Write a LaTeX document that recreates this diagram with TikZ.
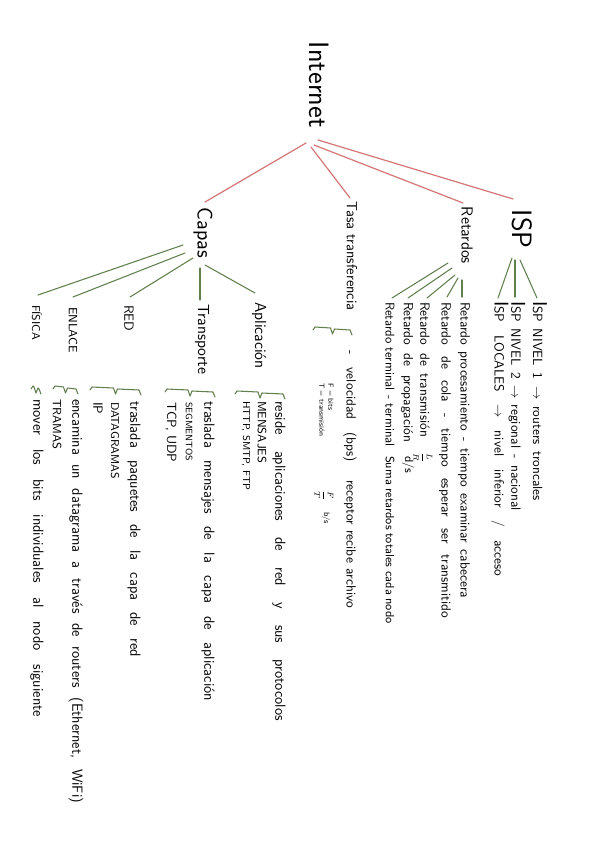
\documentclass[tikz,border=0pt]{standalone}
\usepackage{fontspec}
\usetikzlibrary{calc}
\newlength{\pxu}\setlength{\pxu}{0.75pt}
\newcommand{\fitw}[2]{\makebox[#1\pxu][s]{#2}}
\definecolor{redl}{RGB}{212,118,118}
\definecolor{greenl}{RGB}{98,128,78}
\newcommand{\hwmark}[3]{%
  \pgfmathsetmacro{\hwm}{(#1+#2)/2}%
  \draw[gl] ({#1},{#3+3}) -- ({#1+2},{#3}) -- ({\hwm-2},{#3+1}) -- ({\hwm},{#3+7}) -- ({\hwm+2},{#3+2}) -- ({#2-2},{#3+3}) -- ({#2},{#3+8});}
\begin{document}
\begin{tikzpicture}[x=0.75pt,y=-0.75pt,
  hw/.style={rotate=-90,anchor=west,inner sep=0pt,outer sep=0pt},
  fsz/.style={font=\sffamily\fontsize{#1}{#1}\selectfont},
  rl/.style={draw=redl,line width=0.9pt,line cap=round},
  gl/.style={draw=greenl,line width=0.8pt,line cap=round,line join=round}]
\fill[white] (0,0) rectangle (600,848);
\useasboundingbox (0,0) rectangle (600,848);

% top level
\node[hw,fsz=21] (internet) at (319,42) {Internet};
\node[hw,fsz=16] (capas) at (203,208) {Capas};
\node[hw,fsz=11] (tasa) at (352,202) {Tasa transferencia};
\node[hw,fsz=12] (retardos) at (467,207) {Retardos};
\node[hw,fsz=21] (isp) at (522,210) {ISP};

% ISP rows
\node[hw,fsz=10] (isp1) at (540,301) {\fitw{200}{{\fontsize{15}{15}\selectfont I}SP NIVEL 1 $\rightarrow$ routers troncales}};
\node[hw,fsz=10] (isp2) at (517,301) {\fitw{210}{{\fontsize{15}{15}\selectfont I}SP NIVEL 2 $\rightarrow$ regional - nacional}};
\node[hw,fsz=10] (isp3) at (500,301) {\fitw{275}{{\fontsize{15}{15}\selectfont I}SP LOCALES $\rightarrow$ nivel inferior / acceso}};

% Retardo rows
\node[hw,fsz=10] (rproc) at (464,302) {\fitw{296}{Retardo procesamiento - tiempo examinar cabecera}};
\node[hw,fsz=10] (rcola) at (445,302) {\fitw{316}{Retardo de cola - tiempo esperar ser transmitido}};
\node[hw,fsz=10] (rtrans) at (425,302) {\fitw{135}{Retardo de transmisión}};
\node[hw,fsz=6] (rlr) at (423,452) {$\displaystyle\frac{L}{R}$};
\node[hw,fsz=10] (rprop) at (407,302) {\fitw{140}{Retardo de propagación}};
\node[hw,fsz=9] (rds) at (408,456) {d/s};
\node[hw,fsz=9.5] (rterm) at (390,302) {\fitw{145}{Retardo terminal - terminal}};
\node[hw,fsz=9] (rsuma) at (390,456) {\fitw{168}{Suma retardos totales cada nodo}};

% Tasa transferencia
\node[hw,fsz=10] (vel) at (350,350) {\fitw{112}{- velocidad (bps)}};
\node[hw,fsz=10] (recep) at (350,480) {\fitw{128}{receptor recibe archivo}};
\node[hw,fsz=5.5] (fbits) at (331,383) {F = bits};
\node[hw,fsz=5.5] (ttrans) at (322,383) {T = transmisión};
\node[hw,fsz=6] (ft) at (324,490) {$\displaystyle\frac{F}{T}$};
\node[hw,fsz=6] (bs) at (326,512) {b/s};

% Capas children
\node[hw,fsz=12] (aplic) at (259,302) {Aplicación};
\node[hw,fsz=12] (transp) at (202,304) {Transporte};
\node[hw,fsz=10] (red) at (129,305) {RED};
\node[hw,fsz=9] (enlace) at (73,307) {ENLACE};
\node[hw,fsz=8.5] (fisica) at (37,305) {FÍSICA};

\node[hw,fsz=11] (apl1) at (279,401) {\fitw{320}{reside aplicaciones de red y sus protocolos}};
\node[hw,fsz=9] (apl2) at (262,401) {MENSAJES};
\node[hw,fsz=7.5] (apl3) at (246,401) {HTTP, SMTP, FTP};
\node[hw,fsz=11] (tr1) at (208,401) {\fitw{300}{traslada mensajes de la capa de aplicación}};
\node[hw,fsz=7] (tr2) at (189,402) {SEGMENTOS};
\node[hw,fsz=10] (tr3) at (171,402) {TCP, UDP};
\node[hw,fsz=11] (rd1) at (134,401) {\fitw{256}{traslada paquetes de la capa de red}};
\node[hw,fsz=8.5] (rd2) at (115,402) {DATAGRAMAS};
\node[hw,fsz=10] (rd3) at (98,402) {IP};
\node[hw,fsz=11] (en1) at (76,399) {\fitw{404}{encamina un datagrama a través de routers (Ethernet, WiFi)}};
\node[hw,fsz=9] (en2) at (57,399) {TRAMAS};
\node[hw,fsz=11] (fi1) at (37,399) {\fitw{318}{mover los bits individuales al nodo siguiente}};

% red connectors
\draw[rl] ($(internet.west)+(-13,101)$) -- ($(capas.west)+(2,-6)$);
\draw[rl] ($(internet.west)+(-8,105)$) -- ($(tasa.west)+(-2,-4)$);
\draw[rl] ($(internet.west)+(-5,103)$) -- ($(retardos.west)+(-4,-4)$);
\draw[rl] ($(internet.west)+(-1,98)$) -- ($(isp.west)+(-9,-11)$);

% green connectors: Capas
\draw[gl] ($(capas.west)+(2,57)$) -- ($(aplic.west)+(-4,-9)$);
\draw[gl] ($(capas.west)+(-3,60)$) -- ($(transp.west)+(-2,-4)$);
\draw[gl] ($(capas.west)+(-10,50)$) -- ($(red.west)+(1,-8)$);
\draw[gl] ($(capas.west)+(-18,45)$) -- ($(enlace.west)+(0,-10)$);
\draw[gl] ($(capas.west)+(-20,37)$) -- ($(fisica.west)+(1,-10)$);

% green connectors: Retardos
\draw[gl] ($(retardos.west)+(-19,56)$) -- ($(rterm.west)+(2,-4)$);
\draw[gl] ($(retardos.west)+(-15,61)$) -- ($(rprop.west)+(1,-4)$);
\draw[gl] ($(retardos.west)+(-12,68)$) -- ($(rtrans.west)+(2,-4)$);
\draw[gl] ($(retardos.west)+(-9,71)$) -- ($(rcola.west)+(2,-5)$);
\draw[gl] ($(retardos.west)+(-5,73)$) -- ($(rproc.west)+(-2,-5)$);

% green connectors: ISP
\draw[gl] ($(isp.west)+(-10,48)$) -- ($(isp3.west)+(-2,-3)$);
\draw[gl] ($(isp.west)+(-7,50)$) -- ($(isp2.west)+(-2,-4)$);
\draw[gl] ($(isp.west)+(-2,50)$) -- ($(isp1.west)+(-3,-3)$);

% hand-drawn brace marks
\hwmark{313}{352}{327}
\hwmark{235}{285}{391}
\hwmark{165}{215}{389}
\hwmark{90}{141}{387}
\hwmark{53}{78}{386}
\hwmark{31}{41}{386}
\end{tikzpicture}
\end{document}
